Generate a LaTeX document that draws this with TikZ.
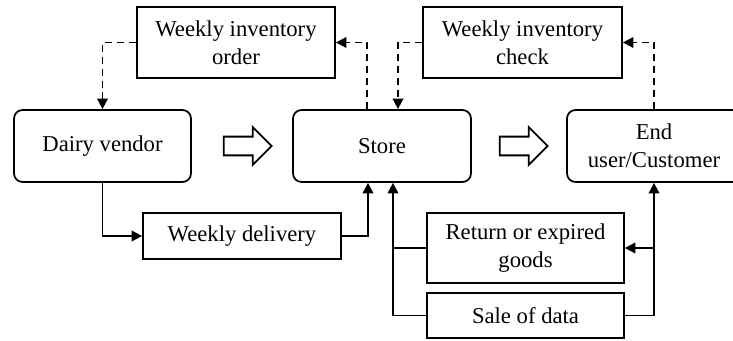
\documentclass[tikz,border=0pt]{standalone}
\usepackage{fontspec}
\setmainfont{Liberation Serif}
\usepackage{tikz}
\usetikzlibrary{calc,positioning,shapes.arrows,arrows.meta}

\tikzset{
  box/.style={draw, line width=1pt, inner sep=0pt, align=center, font=\fontsize{12.9}{15.8}\selectfont},
  rbox/.style={box, rounded corners=0.17cm},
  hollow/.style={draw, line width=1pt, single arrow, single arrow head extend=0.19cm, inner sep=0.17cm,
    minimum height=0.96cm, minimum width=0.72cm, single arrow tip angle=90},
  conn/.style={line width=1pt, -{Triangle[length=6pt,width=6pt]}},
  dconn/.style={conn, dash pattern=on 4pt off 2.8pt}
}

\begin{document}
\begin{tikzpicture}[x=0.02cm, y=-0.02cm]
\useasboundingbox (0,0) rectangle (733,341);
\node [box, minimum width=3.96cm, minimum height=1.42cm] (wio) at (236,42.5) {Weekly inventory\\order};
\node [box, minimum width=3.98cm, minimum height=1.42cm] (wic) at (522.5,42.5) {Weekly inventory\\check};
\node [rbox, minimum width=3.54cm, minimum height=1.44cm] (dv) at (102.5,146) {Dairy vendor};
\node [rbox, minimum width=3.56cm, minimum height=1.44cm] (st) at (382,146) {Store};
\node [rbox, minimum width=3.48cm, minimum height=1.44cm] (eu) at (654,146) {End\\user/Customer};
\node [hollow] (a1) at (243,146) {};
\node [hollow] (a2) at (519,146) {};
\node [box, minimum width=3.96cm, minimum height=0.92cm] (wd) at (242,236) {Weekly delivery};
\node [box, minimum width=3.94cm, minimum height=1.40cm] (rg) at (525.5,248) {Return or expired\\goods};
\node [box, minimum width=3.94cm, minimum height=0.90cm] (sd) at (525.5,315.5) {Sale of data};

\draw [conn] (dv.south) |- (wd.west);
\draw [conn] (wd.east) -| ($(st.south)+(-14,0)$);
\draw [conn] (sd.west) -| ($(st.south)+(11,0)$);
\draw [line width=1pt] (rg.west) -- (rg.west -| {$(st.south)+(11,0)$});
\draw [conn] (sd.east) -| (eu.south);
\draw [conn] (rg.east -| eu.south) -- (rg.east);
\draw [dconn] ($(st.north)+(-15,0)$) |- (wio.east);
\draw [dconn] (wio.west) -| (dv.north);
\draw [dconn] (wic.west) -| ($(st.north)+(16,0)$);
\draw [dconn] (eu.north) |- (wic.east);
\end{tikzpicture}
\end{document}
